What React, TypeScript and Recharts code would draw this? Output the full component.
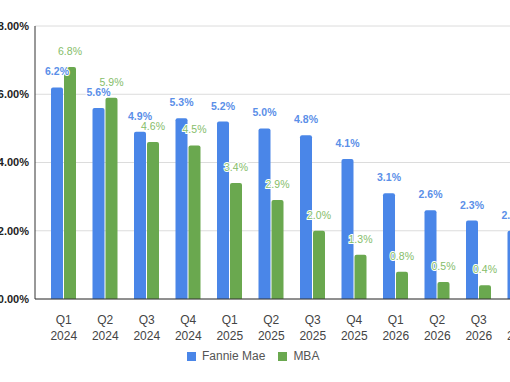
import { BarChart, Bar, XAxis, YAxis, CartesianGrid, LabelList, Legend } from "recharts";

const quarters = ["Q1", "Q2", "Q3", "Q4", "Q1", "Q2", "Q3", "Q4", "Q1", "Q2", "Q3", "Q4"];
const years = ["2024", "2024", "2024", "2024", "2025", "2025", "2025", "2025", "2026", "2026", "2026", "2026"];
const fannieMae = [6.2, 5.6, 4.9, 5.3, 5.2, 5.0, 4.8, 4.1, 3.1, 2.6, 2.3, 2.0];
const mba = [6.8, 5.9, 4.6, 4.5, 3.4, 2.9, 2.0, 1.3, 0.8, 0.5, 0.4, 0.3];
const yTicks = [0, 2, 4, 6, 8];

const BLUE = "#4a86e8";
const GREEN = "#6aa84f";

const data = quarters.map((q, i) => ({
    label: `${q}\n${years[i]}`,
    fannie: fannieMae[i],
    mba: mba[i],
}));

// two-line category tick: "Q1" over "2024"
const QuarterTick = (props: any) => {
    const { x, y, payload } = props;
    const [q, yr] = String(payload.value).split("\n");
    return (
        <text x={x} y={y} textAnchor="middle" fill="#444" fontSize={12} fontFamily="Liberation Sans, Arial, sans-serif">
            <tspan x={x} dy={17}>{q}</tspan>
            <tspan x={x} dy={15.5}>{yr}</tspan>
        </text>
    );
};

const LegendContent = () => (
    <div style={{ display: "flex", alignItems: "center", fontFamily: "Liberation Sans, Arial, sans-serif", fontSize: 12, color: "#555" }}>
        <span style={{ width: 9, height: 9, background: BLUE, display: "inline-block", marginRight: 6 }} />
        <span style={{ marginRight: 13 }}>Fannie Mae</span>
        <span style={{ width: 9, height: 9, background: GREEN, display: "inline-block", marginRight: 6 }} />
        <span>MBA</span>
    </div>
);

const fmt = (v: any) => `${Number(v).toFixed(1)}%`;

export default function App() {
    return (
        <div style={{ position: "fixed", left: 0, top: 0, width: 510, height: 382, overflow: "hidden", background: "#fff" }}>
            <BarChart
                width={560}
                height={382}
                data={data}
                margin={{ top: 26, right: 11, bottom: 43, left: 0 }}
                barSize={12}
                barGap={1}
            >
                <CartesianGrid vertical={false} stroke="#dcdcdc" />
                <XAxis
                    dataKey="label"
                    interval={0}
                    height={40}
                    padding={{ left: 8, right: 8 }}
                    tick={<QuarterTick />}
                    tickLine={false}
                    axisLine={{ stroke: "#333" }}
                />
                <YAxis
                    width={35}
                    domain={[0, 8]}
                    ticks={yTicks}
                    tickFormatter={(v) => `${v.toFixed(2)}%`}
                    tick={{ fill: "#222", fontSize: 11, fontWeight: "bold", fontFamily: "Liberation Sans, Arial, sans-serif" }}
                    tickSize={0}
                    tickMargin={6}
                    axisLine={{ stroke: "#333" }}
                    tickLine={false}
                />
                <Legend
                    layout="horizontal"
                    verticalAlign="middle"
                    align="center"
                    content={<LegendContent />}
                    wrapperStyle={{ top: 349, left: 187, width: 200 }}
                />
                <Bar dataKey="fannie" name="Fannie Mae" fill={BLUE} radius={[2, 2, 0, 0]} isAnimationActive={false}>
                    <LabelList
                        dataKey="fannie"
                        position="top"
                        offset={12}
                        formatter={fmt}
                        fill="#5b8fe8"
                        fontSize={10.5}
                        fontWeight="bold"
                        fontFamily="Liberation Sans, Arial, sans-serif"
                        stroke="#fff"
                        strokeWidth={2}
                        paintOrder="stroke"
                    />
                </Bar>
                <Bar dataKey="mba" name="MBA" fill={GREEN} radius={[2, 2, 0, 0]} isAnimationActive={false}>
                    <LabelList
                        dataKey="mba"
                        position="top"
                        offset={12}
                        formatter={fmt}
                        fill="#86bd6a"
                        fontSize={10.5}
                        fontFamily="Liberation Sans, Arial, sans-serif"
                        stroke="#fff"
                        strokeWidth={2}
                        paintOrder="stroke"
                    />
                </Bar>
            </BarChart>
        </div>
    );
}
